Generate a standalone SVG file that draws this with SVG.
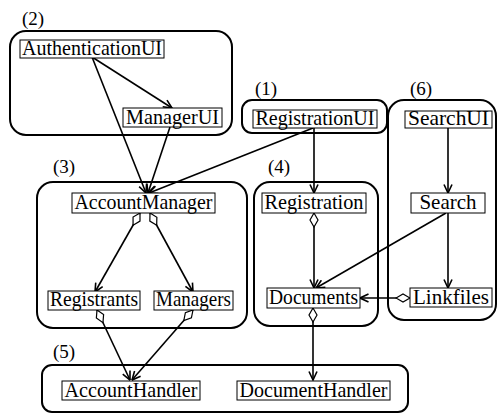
<svg xmlns="http://www.w3.org/2000/svg" width="499" height="414" viewBox="0 0 499 414">
<style>
.frame{fill:none;stroke:#000;stroke-width:2}
.box{fill:#fff;stroke:#000;stroke-width:1}
.lbl{font-family:"Liberation Serif","Times New Roman",serif;font-size:21px;fill:#000;text-anchor:middle}
.num{font-family:"Liberation Serif","Times New Roman",serif;font-size:19px;fill:#000}
.c{fill:none;stroke:#000;stroke-width:1.6}
.a{marker-end:url(#arr)}
.d{marker-start:url(#dia)}
</style>
<defs>
<marker id="arr" viewBox="0 0 10 10" refX="9.5" refY="5" markerWidth="10" markerHeight="10" markerUnits="userSpaceOnUse" orient="auto">
<path d="M1,1 L9.5,5 L1,9" fill="none" stroke="#000" stroke-width="1.6"/>
</marker>
<marker id="dia" viewBox="-1 -1 16 10" refX="0" refY="4" markerWidth="16" markerHeight="10" markerUnits="userSpaceOnUse" orient="auto">
<path d="M0,4 L7,0 L14,4 L7,8 Z" fill="#fff" stroke="#000" stroke-width="1.2"/>
</marker>
</defs>
<rect width="499" height="414" fill="#fff"/>

<g id="packages">
<g id="pkg2"><text class="num" x="22" y="25">(2)</text><rect class="frame" x="10" y="31" width="222" height="104" rx="16"/></g>
<g id="pkg1"><text class="num" x="255" y="95">(1)</text><rect class="frame" x="242" y="100" width="145" height="33" rx="10"/></g>
<g id="pkg6"><text class="num" x="410" y="95">(6)</text><rect class="frame" x="388" y="100" width="108" height="220" rx="16"/></g>
<g id="pkg3"><text class="num" x="53" y="173">(3)</text><rect class="frame" x="37" y="182" width="210" height="146" rx="16"/></g>
<g id="pkg4"><text class="num" x="268" y="173">(4)</text><rect class="frame" x="254" y="182" width="124" height="144" rx="16"/></g>
<g id="pkg5"><text class="num" x="53" y="358">(5)</text><rect class="frame" x="42" y="365" width="366" height="47" rx="10"/></g>
</g>

<g id="connectors">
<line class="c a" x1="92" y1="57" x2="172" y2="108"/>
<line class="c a" x1="92" y1="57" x2="146" y2="193"/>
<line class="c a" x1="170" y1="127" x2="148" y2="193"/>
<line class="c a" x1="313" y1="128" x2="149" y2="193"/>
<line class="c a" x1="314" y1="128" x2="314" y2="193"/>
<line class="c a" x1="448" y1="127" x2="448" y2="193"/>
<line class="c a d" x1="314" y1="213" x2="314" y2="288"/>
<line class="c a" x1="446" y1="213" x2="316" y2="288"/>
<line class="c a" x1="448" y1="213" x2="448" y2="288"/>
<line class="c a d" x1="410" y1="298" x2="360" y2="298"/>
<line class="c a d" x1="140" y1="213" x2="95" y2="292"/>
<line class="c a d" x1="150" y1="213" x2="193" y2="292"/>
<line class="c a d" x1="97" y1="310" x2="130" y2="380"/>
<line class="c a d" x1="193" y1="310" x2="132" y2="380"/>
<line class="c a d" x1="313" y1="308" x2="313" y2="380"/>
</g>

<g id="AuthenticationUI"><rect class="box" x="20" y="40" width="144" height="18"/><text class="lbl" x="92" y="55" textLength="140" lengthAdjust="spacingAndGlyphs">AuthenticationUI</text></g>
<g id="ManagerUI"><rect class="box" x="123" y="108" width="99" height="19"/><text class="lbl" x="172.5" y="124" textLength="93" lengthAdjust="spacingAndGlyphs">ManagerUI</text></g>
<g id="RegistrationUI"><rect class="box" x="253" y="110" width="124" height="18"/><text class="lbl" x="315" y="125" textLength="119" lengthAdjust="spacingAndGlyphs">RegistrationUI</text></g>
<g id="SearchUI"><rect class="box" x="405" y="111" width="87" height="17"/><text class="lbl" x="448.5" y="125" textLength="81" lengthAdjust="spacingAndGlyphs">SearchUI</text></g>
<g id="AccountManager"><rect class="box" x="72" y="193" width="143" height="20"/><text class="lbl" x="143.5" y="209" textLength="138" lengthAdjust="spacingAndGlyphs">AccountManager</text></g>
<g id="Registration"><rect class="box" x="262" y="193" width="104" height="20"/><text class="lbl" x="314" y="209" textLength="99" lengthAdjust="spacingAndGlyphs">Registration</text></g>
<g id="Search"><rect class="box" x="411" y="193" width="74" height="20"/><text class="lbl" x="448" y="209">Search</text></g>
<g id="Registrants"><rect class="box" x="48" y="291" width="92" height="19"/><text class="lbl" x="94" y="306" textLength="88" lengthAdjust="spacingAndGlyphs">Registrants</text></g>
<g id="Managers"><rect class="box" x="154" y="291" width="79" height="19"/><text class="lbl" x="193.5" y="306" textLength="75" lengthAdjust="spacingAndGlyphs">Managers</text></g>
<g id="Documents"><rect class="box" x="267" y="288" width="93" height="20"/><text class="lbl" x="313.5" y="304" textLength="89" lengthAdjust="spacingAndGlyphs">Documents</text></g>
<g id="Linkfiles"><rect class="box" x="410" y="288" width="82" height="19"/><text class="lbl" x="451" y="304" textLength="76" lengthAdjust="spacingAndGlyphs">Linkfiles</text></g>
<g id="AccountHandler"><rect class="box" x="62" y="381" width="138" height="19"/><text class="lbl" x="131" y="397" textLength="133" lengthAdjust="spacingAndGlyphs">AccountHandler</text></g>
<g id="DocumentHandler"><rect class="box" x="237" y="381" width="153" height="19"/><text class="lbl" x="313.5" y="397" textLength="148" lengthAdjust="spacingAndGlyphs">DocumentHandler</text></g>
</svg>
